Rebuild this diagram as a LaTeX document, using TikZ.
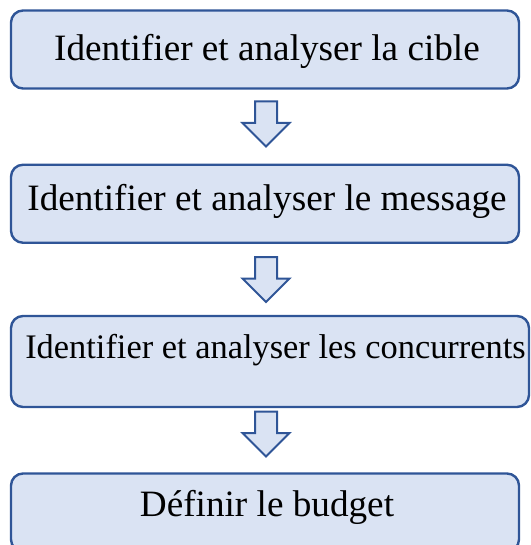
\documentclass[tikz,border=0pt]{standalone}
\usepackage{fontspec}
\setmainfont[Ligatures=NoCommon]{Liberation Serif}
\definecolor{boxfill}{HTML}{DAE3F3}
\definecolor{boxline}{HTML}{2F5597}
\begin{document}
\begin{tikzpicture}[x=1pt,y=-1pt,
  stepbox/.style={draw=boxline, fill=boxfill, line width=2.4pt,
    rounded corners=12pt, inner sep=0pt, minimum width=508pt, minimum height=78pt},
  steptext/.style={anchor=base, inner sep=0pt, font=\rmfamily\fontsize{37.2}{40}\selectfont},
  pics/hollowdown/.style={code={
    \draw[draw=boxline, fill=boxfill, line width=2pt]
      (-11,0) -- (11,0) -- (11,21.5) -- (23.5,21.5) -- (0,45)
      -- (-23.5,21.5) -- (-11,21.5) -- cycle;}}]
  \useasboundingbox (0,0) rectangle (530,545);
  \clip (0,0) rectangle (530,545);
  % the four steps
  \node[stepbox] (s1) at (265,49.5) {};
  \node[stepbox] (s2) at (265,203.75) {};
  \node[stepbox, minimum width=518pt, minimum height=91pt] (s3) at (270,361.5) {};
  \node[stepbox] (s4) at (265,512.5) {};
  \node[steptext] (t1) at (267,61) {Identifier et analyser la cible};
  \node[steptext] (t2) at (267,210) {Identifier et analyser le message};
  \node[steptext, font=\rmfamily\fontsize{34.4}{38}\selectfont] (t3) at (275.5,358) {Identifier et analyser les concurrents};
  \node[steptext] (t4) at (267,516) {Définir le budget};
  % hollow arrows between the steps
  \pic (a1) at (266,101.5) {hollowdown};
  \pic (a2) at (266,257) {hollowdown};
  \pic (a3) at (266,411.5) {hollowdown};
\end{tikzpicture}
\end{document}
